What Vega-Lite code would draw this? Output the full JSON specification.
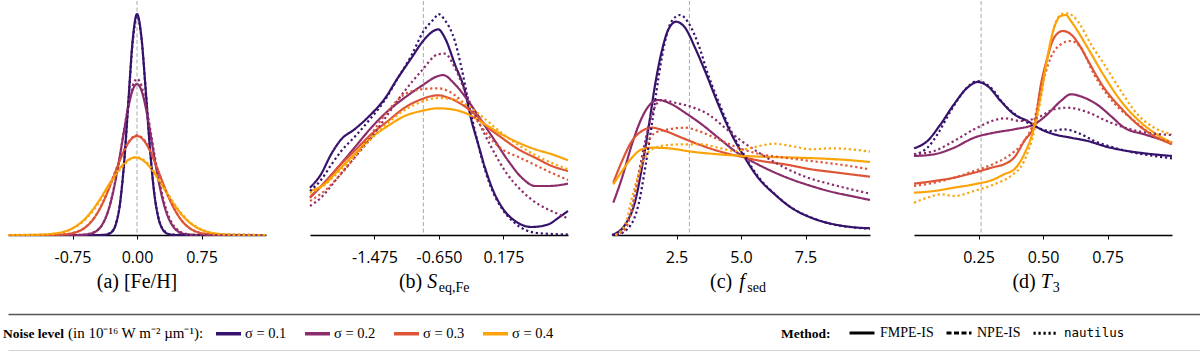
{
 "$schema": "https://vega.github.io/schema/vega-lite/v6.json",
 "padding": {"left": 3, "top": 0, "right": 0, "bottom": 0},
 "background": "white",
 "config": {
  "view": {"stroke": null},
  "axis": {"grid": false, "domainColor": "#000", "domainWidth": 1.5, "tickColor": "#000", "tickSize": 4, "tickWidth": 1, "labelFont": "Open Sans", "labelFontSize": 16, "labelColor": "#000", "labelPadding": 10},
  "legend": {"titleFont": "Liberation Serif", "labelFont": "Liberation Serif", "titleColor": "#000", "labelColor": "#000"}
 },
 "datasets": {
  "curves": [
   {"p":"a","s":"0.1","m":"FMPE-IS","x":-1.5,"y":0},{"p":"a","s":"0.1","m":"FMPE-IS","x":-0.45,"y":0},{"p":"a","s":"0.1","m":"FMPE-IS","x":-0.4,"y":0.001},{"p":"a","s":"0.1","m":"FMPE-IS","x":-0.35,"y":0.005},{"p":"a","s":"0.1","m":"FMPE-IS","x":-0.3,"y":0.025},{"p":"a","s":"0.1","m":"FMPE-IS","x":-0.25,"y":0.097},{"p":"a","s":"0.1","m":"FMPE-IS","x":-0.2,"y":0.299},{"p":"a","s":"0.1","m":"FMPE-IS","x":-0.15,"y":0.718},{"p":"a","s":"0.1","m":"FMPE-IS","x":-0.1,"y":1.34},{"p":"a","s":"0.1","m":"FMPE-IS","x":-0.05,"y":1.95},{"p":"a","s":"0.1","m":"FMPE-IS","x":0,"y":2.21},{"p":"a","s":"0.1","m":"FMPE-IS","x":0.05,"y":1.99},{"p":"a","s":"0.1","m":"FMPE-IS","x":0.1,"y":1.46},{"p":"a","s":"0.1","m":"FMPE-IS","x":0.15,"y":0.87},{"p":"a","s":"0.1","m":"FMPE-IS","x":0.2,"y":0.42},{"p":"a","s":"0.1","m":"FMPE-IS","x":0.25,"y":0.167},{"p":"a","s":"0.1","m":"FMPE-IS","x":0.3,"y":0.054},{"p":"a","s":"0.1","m":"FMPE-IS","x":0.35,"y":0.014},{"p":"a","s":"0.1","m":"FMPE-IS","x":0.4,"y":0.003},{"p":"a","s":"0.1","m":"FMPE-IS","x":0.45,"y":0},{"p":"a","s":"0.1","m":"FMPE-IS","x":1.5,"y":0},
   {"p":"a","s":"0.2","m":"FMPE-IS","x":-1.5,"y":0},{"p":"a","s":"0.2","m":"FMPE-IS","x":-0.7,"y":0},{"p":"a","s":"0.2","m":"FMPE-IS","x":-0.6,"y":0.004},{"p":"a","s":"0.2","m":"FMPE-IS","x":-0.5,"y":0.025},{"p":"a","s":"0.2","m":"FMPE-IS","x":-0.4,"y":0.111},{"p":"a","s":"0.2","m":"FMPE-IS","x":-0.35,"y":0.204},{"p":"a","s":"0.2","m":"FMPE-IS","x":-0.3,"y":0.348},{"p":"a","s":"0.2","m":"FMPE-IS","x":-0.25,"y":0.544},{"p":"a","s":"0.2","m":"FMPE-IS","x":-0.2,"y":0.786},{"p":"a","s":"0.2","m":"FMPE-IS","x":-0.15,"y":1.046},{"p":"a","s":"0.2","m":"FMPE-IS","x":-0.1,"y":1.282},{"p":"a","s":"0.2","m":"FMPE-IS","x":-0.05,"y":1.45},{"p":"a","s":"0.2","m":"FMPE-IS","x":0,"y":1.51},{"p":"a","s":"0.2","m":"FMPE-IS","x":0.05,"y":1.45},{"p":"a","s":"0.2","m":"FMPE-IS","x":0.1,"y":1.282},{"p":"a","s":"0.2","m":"FMPE-IS","x":0.15,"y":1.046},{"p":"a","s":"0.2","m":"FMPE-IS","x":0.2,"y":0.786},{"p":"a","s":"0.2","m":"FMPE-IS","x":0.25,"y":0.544},{"p":"a","s":"0.2","m":"FMPE-IS","x":0.3,"y":0.348},{"p":"a","s":"0.2","m":"FMPE-IS","x":0.35,"y":0.204},{"p":"a","s":"0.2","m":"FMPE-IS","x":0.4,"y":0.111},{"p":"a","s":"0.2","m":"FMPE-IS","x":0.5,"y":0.025},{"p":"a","s":"0.2","m":"FMPE-IS","x":0.6,"y":0.004},{"p":"a","s":"0.2","m":"FMPE-IS","x":0.7,"y":0},{"p":"a","s":"0.2","m":"FMPE-IS","x":1.5,"y":0},
   {"p":"a","s":"0.3","m":"FMPE-IS","x":-1.5,"y":0},{"p":"a","s":"0.3","m":"FMPE-IS","x":-1.0,"y":0},{"p":"a","s":"0.3","m":"FMPE-IS","x":-0.9,"y":0.003},{"p":"a","s":"0.3","m":"FMPE-IS","x":-0.8,"y":0.01},{"p":"a","s":"0.3","m":"FMPE-IS","x":-0.7,"y":0.03},{"p":"a","s":"0.3","m":"FMPE-IS","x":-0.6,"y":0.076},{"p":"a","s":"0.3","m":"FMPE-IS","x":-0.5,"y":0.167},{"p":"a","s":"0.3","m":"FMPE-IS","x":-0.4,"y":0.317},{"p":"a","s":"0.3","m":"FMPE-IS","x":-0.35,"y":0.414},{"p":"a","s":"0.3","m":"FMPE-IS","x":-0.3,"y":0.522},{"p":"a","s":"0.3","m":"FMPE-IS","x":-0.25,"y":0.634},{"p":"a","s":"0.3","m":"FMPE-IS","x":-0.2,"y":0.745},{"p":"a","s":"0.3","m":"FMPE-IS","x":-0.15,"y":0.843},{"p":"a","s":"0.3","m":"FMPE-IS","x":-0.1,"y":0.922},{"p":"a","s":"0.3","m":"FMPE-IS","x":-0.05,"y":0.972},{"p":"a","s":"0.3","m":"FMPE-IS","x":0,"y":0.99},{"p":"a","s":"0.3","m":"FMPE-IS","x":0.05,"y":0.972},{"p":"a","s":"0.3","m":"FMPE-IS","x":0.1,"y":0.922},{"p":"a","s":"0.3","m":"FMPE-IS","x":0.15,"y":0.843},{"p":"a","s":"0.3","m":"FMPE-IS","x":0.2,"y":0.745},{"p":"a","s":"0.3","m":"FMPE-IS","x":0.25,"y":0.634},{"p":"a","s":"0.3","m":"FMPE-IS","x":0.3,"y":0.522},{"p":"a","s":"0.3","m":"FMPE-IS","x":0.35,"y":0.414},{"p":"a","s":"0.3","m":"FMPE-IS","x":0.4,"y":0.317},{"p":"a","s":"0.3","m":"FMPE-IS","x":0.5,"y":0.167},{"p":"a","s":"0.3","m":"FMPE-IS","x":0.6,"y":0.076},{"p":"a","s":"0.3","m":"FMPE-IS","x":0.7,"y":0.03},{"p":"a","s":"0.3","m":"FMPE-IS","x":0.8,"y":0.01},{"p":"a","s":"0.3","m":"FMPE-IS","x":0.9,"y":0.003},{"p":"a","s":"0.3","m":"FMPE-IS","x":1.0,"y":0},{"p":"a","s":"0.3","m":"FMPE-IS","x":1.5,"y":0},
   {"p":"a","s":"0.4","m":"FMPE-IS","x":-1.5,"y":0},{"p":"a","s":"0.4","m":"FMPE-IS","x":-1.32,"y":0},{"p":"a","s":"0.4","m":"FMPE-IS","x":-1.22,"y":0.001},{"p":"a","s":"0.4","m":"FMPE-IS","x":-1.12,"y":0.003},{"p":"a","s":"0.4","m":"FMPE-IS","x":-1.02,"y":0.008},{"p":"a","s":"0.4","m":"FMPE-IS","x":-0.92,"y":0.019},{"p":"a","s":"0.4","m":"FMPE-IS","x":-0.82,"y":0.041},{"p":"a","s":"0.4","m":"FMPE-IS","x":-0.72,"y":0.082},{"p":"a","s":"0.4","m":"FMPE-IS","x":-0.62,"y":0.148},{"p":"a","s":"0.4","m":"FMPE-IS","x":-0.52,"y":0.246},{"p":"a","s":"0.4","m":"FMPE-IS","x":-0.42,"y":0.372},{"p":"a","s":"0.4","m":"FMPE-IS","x":-0.32,"y":0.513},{"p":"a","s":"0.4","m":"FMPE-IS","x":-0.22,"y":0.645},{"p":"a","s":"0.4","m":"FMPE-IS","x":-0.12,"y":0.74},{"p":"a","s":"0.4","m":"FMPE-IS","x":-0.02,"y":0.775},{"p":"a","s":"0.4","m":"FMPE-IS","x":0.08,"y":0.74},{"p":"a","s":"0.4","m":"FMPE-IS","x":0.18,"y":0.645},{"p":"a","s":"0.4","m":"FMPE-IS","x":0.28,"y":0.513},{"p":"a","s":"0.4","m":"FMPE-IS","x":0.38,"y":0.372},{"p":"a","s":"0.4","m":"FMPE-IS","x":0.48,"y":0.246},{"p":"a","s":"0.4","m":"FMPE-IS","x":0.58,"y":0.148},{"p":"a","s":"0.4","m":"FMPE-IS","x":0.68,"y":0.082},{"p":"a","s":"0.4","m":"FMPE-IS","x":0.78,"y":0.041},{"p":"a","s":"0.4","m":"FMPE-IS","x":0.88,"y":0.019},{"p":"a","s":"0.4","m":"FMPE-IS","x":0.98,"y":0.008},{"p":"a","s":"0.4","m":"FMPE-IS","x":1.08,"y":0.003},{"p":"a","s":"0.4","m":"FMPE-IS","x":1.18,"y":0.001},{"p":"a","s":"0.4","m":"FMPE-IS","x":1.28,"y":0},{"p":"a","s":"0.4","m":"FMPE-IS","x":1.5,"y":0},
   {"p":"a","s":"0.1","m":"nautilus","x":-1.5,"y":0},{"p":"a","s":"0.1","m":"nautilus","x":-0.4,"y":0},{"p":"a","s":"0.1","m":"nautilus","x":-0.3,"y":0.03},{"p":"a","s":"0.1","m":"nautilus","x":-0.25,"y":0.1},{"p":"a","s":"0.1","m":"nautilus","x":-0.2,"y":0.3},{"p":"a","s":"0.1","m":"nautilus","x":-0.15,"y":0.72},{"p":"a","s":"0.1","m":"nautilus","x":-0.1,"y":1.33},{"p":"a","s":"0.1","m":"nautilus","x":-0.05,"y":1.93},{"p":"a","s":"0.1","m":"nautilus","x":0,"y":2.19},{"p":"a","s":"0.1","m":"nautilus","x":0.05,"y":1.98},{"p":"a","s":"0.1","m":"nautilus","x":0.1,"y":1.47},{"p":"a","s":"0.1","m":"nautilus","x":0.15,"y":0.88},{"p":"a","s":"0.1","m":"nautilus","x":0.2,"y":0.43},{"p":"a","s":"0.1","m":"nautilus","x":0.25,"y":0.17},{"p":"a","s":"0.1","m":"nautilus","x":0.3,"y":0.06},{"p":"a","s":"0.1","m":"nautilus","x":0.4,"y":0.004},{"p":"a","s":"0.1","m":"nautilus","x":1.5,"y":0},
   {"p":"a","s":"0.2","m":"nautilus","x":-1.5,"y":0},{"p":"a","s":"0.2","m":"nautilus","x":-0.7,"y":0},{"p":"a","s":"0.2","m":"nautilus","x":-0.6,"y":0.006},{"p":"a","s":"0.2","m":"nautilus","x":-0.5,"y":0.03},{"p":"a","s":"0.2","m":"nautilus","x":-0.4,"y":0.105},{"p":"a","s":"0.2","m":"nautilus","x":-0.3,"y":0.35},{"p":"a","s":"0.2","m":"nautilus","x":-0.25,"y":0.55},{"p":"a","s":"0.2","m":"nautilus","x":-0.2,"y":0.78},{"p":"a","s":"0.2","m":"nautilus","x":-0.15,"y":1.05},{"p":"a","s":"0.2","m":"nautilus","x":-0.1,"y":1.3},{"p":"a","s":"0.2","m":"nautilus","x":-0.05,"y":1.49},{"p":"a","s":"0.2","m":"nautilus","x":0,"y":1.56},{"p":"a","s":"0.2","m":"nautilus","x":0.05,"y":1.5},{"p":"a","s":"0.2","m":"nautilus","x":0.1,"y":1.31},{"p":"a","s":"0.2","m":"nautilus","x":0.15,"y":1.08},{"p":"a","s":"0.2","m":"nautilus","x":0.2,"y":0.82},{"p":"a","s":"0.2","m":"nautilus","x":0.25,"y":0.58},{"p":"a","s":"0.2","m":"nautilus","x":0.3,"y":0.38},{"p":"a","s":"0.2","m":"nautilus","x":0.35,"y":0.23},{"p":"a","s":"0.2","m":"nautilus","x":0.4,"y":0.13},{"p":"a","s":"0.2","m":"nautilus","x":0.5,"y":0.035},{"p":"a","s":"0.2","m":"nautilus","x":0.6,"y":0.007},{"p":"a","s":"0.2","m":"nautilus","x":0.7,"y":0},{"p":"a","s":"0.2","m":"nautilus","x":1.5,"y":0},
   {"p":"a","s":"0.3","m":"nautilus","x":-1.5,"y":0},{"p":"a","s":"0.3","m":"nautilus","x":-1.0,"y":0},{"p":"a","s":"0.3","m":"nautilus","x":-0.8,"y":0.012},{"p":"a","s":"0.3","m":"nautilus","x":-0.6,"y":0.08},{"p":"a","s":"0.3","m":"nautilus","x":-0.5,"y":0.17},{"p":"a","s":"0.3","m":"nautilus","x":-0.4,"y":0.32},{"p":"a","s":"0.3","m":"nautilus","x":-0.3,"y":0.53},{"p":"a","s":"0.3","m":"nautilus","x":-0.2,"y":0.75},{"p":"a","s":"0.3","m":"nautilus","x":-0.1,"y":0.93},{"p":"a","s":"0.3","m":"nautilus","x":0,"y":1.0},{"p":"a","s":"0.3","m":"nautilus","x":0.1,"y":0.93},{"p":"a","s":"0.3","m":"nautilus","x":0.2,"y":0.75},{"p":"a","s":"0.3","m":"nautilus","x":0.3,"y":0.52},{"p":"a","s":"0.3","m":"nautilus","x":0.4,"y":0.32},{"p":"a","s":"0.3","m":"nautilus","x":0.5,"y":0.165},{"p":"a","s":"0.3","m":"nautilus","x":0.6,"y":0.075},{"p":"a","s":"0.3","m":"nautilus","x":0.8,"y":0.01},{"p":"a","s":"0.3","m":"nautilus","x":1.0,"y":0},{"p":"a","s":"0.3","m":"nautilus","x":1.5,"y":0},
   {"p":"a","s":"0.4","m":"nautilus","x":-1.5,"y":0},{"p":"a","s":"0.4","m":"nautilus","x":-1.2,"y":0.002},{"p":"a","s":"0.4","m":"nautilus","x":-1.0,"y":0.01},{"p":"a","s":"0.4","m":"nautilus","x":-0.8,"y":0.045},{"p":"a","s":"0.4","m":"nautilus","x":-0.7,"y":0.088},{"p":"a","s":"0.4","m":"nautilus","x":-0.6,"y":0.155},{"p":"a","s":"0.4","m":"nautilus","x":-0.5,"y":0.255},{"p":"a","s":"0.4","m":"nautilus","x":-0.4,"y":0.385},{"p":"a","s":"0.4","m":"nautilus","x":-0.3,"y":0.525},{"p":"a","s":"0.4","m":"nautilus","x":-0.2,"y":0.65},{"p":"a","s":"0.4","m":"nautilus","x":-0.1,"y":0.745},{"p":"a","s":"0.4","m":"nautilus","x":-0.02,"y":0.78},{"p":"a","s":"0.4","m":"nautilus","x":0.1,"y":0.735},{"p":"a","s":"0.4","m":"nautilus","x":0.2,"y":0.63},{"p":"a","s":"0.4","m":"nautilus","x":0.3,"y":0.495},{"p":"a","s":"0.4","m":"nautilus","x":0.4,"y":0.355},{"p":"a","s":"0.4","m":"nautilus","x":0.5,"y":0.235},{"p":"a","s":"0.4","m":"nautilus","x":0.6,"y":0.14},{"p":"a","s":"0.4","m":"nautilus","x":0.7,"y":0.077},{"p":"a","s":"0.4","m":"nautilus","x":0.8,"y":0.038},{"p":"a","s":"0.4","m":"nautilus","x":1.0,"y":0.007},{"p":"a","s":"0.4","m":"nautilus","x":1.2,"y":0.001},{"p":"a","s":"0.4","m":"nautilus","x":1.5,"y":0},

   {"p":"b","s":"0.1","m":"FMPE-IS","x":-2.3,"y":0.473},{"p":"b","s":"0.1","m":"FMPE-IS","x":-2.16,"y":0.607},{"p":"b","s":"0.1","m":"FMPE-IS","x":-2.03,"y":0.807},{"p":"b","s":"0.1","m":"FMPE-IS","x":-1.9,"y":0.957},{"p":"b","s":"0.1","m":"FMPE-IS","x":-1.73,"y":1.057},{"p":"b","s":"0.1","m":"FMPE-IS","x":-1.52,"y":1.207},{"p":"b","s":"0.1","m":"FMPE-IS","x":-1.35,"y":1.357},{"p":"b","s":"0.1","m":"FMPE-IS","x":-1.175,"y":1.573},{"p":"b","s":"0.1","m":"FMPE-IS","x":-1.0,"y":1.773},{"p":"b","s":"0.1","m":"FMPE-IS","x":-0.854,"y":1.94},{"p":"b","s":"0.1","m":"FMPE-IS","x":-0.704,"y":2.047},{"p":"b","s":"0.1","m":"FMPE-IS","x":-0.66,"y":2.057},{"p":"b","s":"0.1","m":"FMPE-IS","x":-0.576,"y":1.973},{"p":"b","s":"0.1","m":"FMPE-IS","x":-0.447,"y":1.707},{"p":"b","s":"0.1","m":"FMPE-IS","x":-0.319,"y":1.44},{"p":"b","s":"0.1","m":"FMPE-IS","x":-0.233,"y":1.14},{"p":"b","s":"0.1","m":"FMPE-IS","x":-0.148,"y":0.907},{"p":"b","s":"0.1","m":"FMPE-IS","x":-0.062,"y":0.673},{"p":"b","s":"0.1","m":"FMPE-IS","x":0.045,"y":0.44},{"p":"b","s":"0.1","m":"FMPE-IS","x":0.173,"y":0.257},{"p":"b","s":"0.1","m":"FMPE-IS","x":0.323,"y":0.14},{"p":"b","s":"0.1","m":"FMPE-IS","x":0.538,"y":0.08},{"p":"b","s":"0.1","m":"FMPE-IS","x":0.751,"y":0.107},{"p":"b","s":"0.1","m":"FMPE-IS","x":0.879,"y":0.173},{"p":"b","s":"0.1","m":"FMPE-IS","x":1.0,"y":0.24},
   {"p":"b","s":"0.2","m":"FMPE-IS","x":-2.3,"y":0.373},{"p":"b","s":"0.2","m":"FMPE-IS","x":-2.116,"y":0.523},{"p":"b","s":"0.2","m":"FMPE-IS","x":-1.946,"y":0.673},{"p":"b","s":"0.2","m":"FMPE-IS","x":-1.731,"y":0.873},{"p":"b","s":"0.2","m":"FMPE-IS","x":-1.517,"y":1.073},{"p":"b","s":"0.2","m":"FMPE-IS","x":-1.304,"y":1.24},{"p":"b","s":"0.2","m":"FMPE-IS","x":-1.089,"y":1.373},{"p":"b","s":"0.2","m":"FMPE-IS","x":-0.875,"y":1.49},{"p":"b","s":"0.2","m":"FMPE-IS","x":-0.661,"y":1.59},{"p":"b","s":"0.2","m":"FMPE-IS","x":-0.6,"y":1.6},{"p":"b","s":"0.2","m":"FMPE-IS","x":-0.447,"y":1.507},{"p":"b","s":"0.2","m":"FMPE-IS","x":-0.276,"y":1.34},{"p":"b","s":"0.2","m":"FMPE-IS","x":-0.104,"y":1.14},{"p":"b","s":"0.2","m":"FMPE-IS","x":0.067,"y":0.94},{"p":"b","s":"0.2","m":"FMPE-IS","x":0.237,"y":0.74},{"p":"b","s":"0.2","m":"FMPE-IS","x":0.409,"y":0.573},{"p":"b","s":"0.2","m":"FMPE-IS","x":0.58,"y":0.49},{"p":"b","s":"0.2","m":"FMPE-IS","x":0.751,"y":0.49},{"p":"b","s":"0.2","m":"FMPE-IS","x":1.0,"y":0.513},
   {"p":"b","s":"0.3","m":"FMPE-IS","x":-2.3,"y":0.38},{"p":"b","s":"0.3","m":"FMPE-IS","x":-2.116,"y":0.523},{"p":"b","s":"0.3","m":"FMPE-IS","x":-1.946,"y":0.673},{"p":"b","s":"0.3","m":"FMPE-IS","x":-1.731,"y":0.84},{"p":"b","s":"0.3","m":"FMPE-IS","x":-1.517,"y":1.007},{"p":"b","s":"0.3","m":"FMPE-IS","x":-1.304,"y":1.14},{"p":"b","s":"0.3","m":"FMPE-IS","x":-1.089,"y":1.273},{"p":"b","s":"0.3","m":"FMPE-IS","x":-0.875,"y":1.357},{"p":"b","s":"0.3","m":"FMPE-IS","x":-0.661,"y":1.397},{"p":"b","s":"0.3","m":"FMPE-IS","x":-0.532,"y":1.373},{"p":"b","s":"0.3","m":"FMPE-IS","x":-0.361,"y":1.307},{"p":"b","s":"0.3","m":"FMPE-IS","x":-0.19,"y":1.207},{"p":"b","s":"0.3","m":"FMPE-IS","x":-0.019,"y":1.073},{"p":"b","s":"0.3","m":"FMPE-IS","x":0.152,"y":0.973},{"p":"b","s":"0.3","m":"FMPE-IS","x":0.366,"y":0.857},{"p":"b","s":"0.3","m":"FMPE-IS","x":0.58,"y":0.773},{"p":"b","s":"0.3","m":"FMPE-IS","x":0.794,"y":0.69},{"p":"b","s":"0.3","m":"FMPE-IS","x":1.0,"y":0.64},
   {"p":"b","s":"0.4","m":"FMPE-IS","x":-2.3,"y":0.44},{"p":"b","s":"0.4","m":"FMPE-IS","x":-2.116,"y":0.507},{"p":"b","s":"0.4","m":"FMPE-IS","x":-1.946,"y":0.64},{"p":"b","s":"0.4","m":"FMPE-IS","x":-1.731,"y":0.807},{"p":"b","s":"0.4","m":"FMPE-IS","x":-1.517,"y":0.973},{"p":"b","s":"0.4","m":"FMPE-IS","x":-1.304,"y":1.09},{"p":"b","s":"0.4","m":"FMPE-IS","x":-1.089,"y":1.19},{"p":"b","s":"0.4","m":"FMPE-IS","x":-0.875,"y":1.24},{"p":"b","s":"0.4","m":"FMPE-IS","x":-0.661,"y":1.267},{"p":"b","s":"0.4","m":"FMPE-IS","x":-0.489,"y":1.257},{"p":"b","s":"0.4","m":"FMPE-IS","x":-0.276,"y":1.207},{"p":"b","s":"0.4","m":"FMPE-IS","x":-0.062,"y":1.107},{"p":"b","s":"0.4","m":"FMPE-IS","x":0.152,"y":1.007},{"p":"b","s":"0.4","m":"FMPE-IS","x":0.366,"y":0.923},{"p":"b","s":"0.4","m":"FMPE-IS","x":0.58,"y":0.857},{"p":"b","s":"0.4","m":"FMPE-IS","x":0.794,"y":0.807},{"p":"b","s":"0.4","m":"FMPE-IS","x":1.0,"y":0.747},
   {"p":"b","s":"0.1","m":"nautilus","x":-2.3,"y":0.44},{"p":"b","s":"0.1","m":"nautilus","x":-2.16,"y":0.55},{"p":"b","s":"0.1","m":"nautilus","x":-2.03,"y":0.7},{"p":"b","s":"0.1","m":"nautilus","x":-1.9,"y":0.84},{"p":"b","s":"0.1","m":"nautilus","x":-1.73,"y":0.98},{"p":"b","s":"0.1","m":"nautilus","x":-1.52,"y":1.17},{"p":"b","s":"0.1","m":"nautilus","x":-1.35,"y":1.34},{"p":"b","s":"0.1","m":"nautilus","x":-1.175,"y":1.57},{"p":"b","s":"0.1","m":"nautilus","x":-1.0,"y":1.8},{"p":"b","s":"0.1","m":"nautilus","x":-0.854,"y":2.03},{"p":"b","s":"0.1","m":"nautilus","x":-0.704,"y":2.17},{"p":"b","s":"0.1","m":"nautilus","x":-0.66,"y":2.21},{"p":"b","s":"0.1","m":"nautilus","x":-0.576,"y":2.15},{"p":"b","s":"0.1","m":"nautilus","x":-0.447,"y":1.94},{"p":"b","s":"0.1","m":"nautilus","x":-0.362,"y":1.67},{"p":"b","s":"0.1","m":"nautilus","x":-0.276,"y":1.34},{"p":"b","s":"0.1","m":"nautilus","x":-0.19,"y":1.04},{"p":"b","s":"0.1","m":"nautilus","x":-0.105,"y":0.77},{"p":"b","s":"0.1","m":"nautilus","x":0.0,"y":0.507},{"p":"b","s":"0.1","m":"nautilus","x":0.15,"y":0.27},{"p":"b","s":"0.1","m":"nautilus","x":0.32,"y":0.12},{"p":"b","s":"0.1","m":"nautilus","x":0.6,"y":0.02},{"p":"b","s":"0.1","m":"nautilus","x":1.0,"y":0.005},
   {"p":"b","s":"0.2","m":"nautilus","x":-2.3,"y":0.29},{"p":"b","s":"0.2","m":"nautilus","x":-2.159,"y":0.373},{"p":"b","s":"0.2","m":"nautilus","x":-1.946,"y":0.573},{"p":"b","s":"0.2","m":"nautilus","x":-1.731,"y":0.773},{"p":"b","s":"0.2","m":"nautilus","x":-1.517,"y":0.973},{"p":"b","s":"0.2","m":"nautilus","x":-1.304,"y":1.207},{"p":"b","s":"0.2","m":"nautilus","x":-1.089,"y":1.44},{"p":"b","s":"0.2","m":"nautilus","x":-0.875,"y":1.64},{"p":"b","s":"0.2","m":"nautilus","x":-0.661,"y":1.807},{"p":"b","s":"0.2","m":"nautilus","x":-0.576,"y":1.813},{"p":"b","s":"0.2","m":"nautilus","x":-0.447,"y":1.673},{"p":"b","s":"0.2","m":"nautilus","x":-0.319,"y":1.44},{"p":"b","s":"0.2","m":"nautilus","x":-0.148,"y":1.14},{"p":"b","s":"0.2","m":"nautilus","x":0.023,"y":0.873},{"p":"b","s":"0.2","m":"nautilus","x":0.195,"y":0.64},{"p":"b","s":"0.2","m":"nautilus","x":0.409,"y":0.44},{"p":"b","s":"0.2","m":"nautilus","x":0.623,"y":0.307},{"p":"b","s":"0.2","m":"nautilus","x":0.837,"y":0.223},{"p":"b","s":"0.2","m":"nautilus","x":1.0,"y":0.165},
   {"p":"b","s":"0.3","m":"nautilus","x":-2.3,"y":0.34},{"p":"b","s":"0.3","m":"nautilus","x":-2.116,"y":0.44},{"p":"b","s":"0.3","m":"nautilus","x":-1.946,"y":0.573},{"p":"b","s":"0.3","m":"nautilus","x":-1.731,"y":0.773},{"p":"b","s":"0.3","m":"nautilus","x":-1.517,"y":1.007},{"p":"b","s":"0.3","m":"nautilus","x":-1.304,"y":1.24},{"p":"b","s":"0.3","m":"nautilus","x":-1.089,"y":1.407},{"p":"b","s":"0.3","m":"nautilus","x":-0.875,"y":1.457},{"p":"b","s":"0.3","m":"nautilus","x":-0.661,"y":1.467},{"p":"b","s":"0.3","m":"nautilus","x":-0.532,"y":1.44},{"p":"b","s":"0.3","m":"nautilus","x":-0.361,"y":1.34},{"p":"b","s":"0.3","m":"nautilus","x":-0.19,"y":1.173},{"p":"b","s":"0.3","m":"nautilus","x":-0.019,"y":0.99},{"p":"b","s":"0.3","m":"nautilus","x":0.152,"y":0.86},{"p":"b","s":"0.3","m":"nautilus","x":0.366,"y":0.78},{"p":"b","s":"0.3","m":"nautilus","x":0.58,"y":0.7},{"p":"b","s":"0.3","m":"nautilus","x":0.794,"y":0.62},{"p":"b","s":"0.3","m":"nautilus","x":1.0,"y":0.55},
   {"p":"b","s":"0.4","m":"nautilus","x":-2.3,"y":0.42},{"p":"b","s":"0.4","m":"nautilus","x":-2.116,"y":0.5},{"p":"b","s":"0.4","m":"nautilus","x":-1.946,"y":0.62},{"p":"b","s":"0.4","m":"nautilus","x":-1.731,"y":0.79},{"p":"b","s":"0.4","m":"nautilus","x":-1.517,"y":0.96},{"p":"b","s":"0.4","m":"nautilus","x":-1.304,"y":1.12},{"p":"b","s":"0.4","m":"nautilus","x":-1.089,"y":1.25},{"p":"b","s":"0.4","m":"nautilus","x":-0.875,"y":1.33},{"p":"b","s":"0.4","m":"nautilus","x":-0.661,"y":1.37},{"p":"b","s":"0.4","m":"nautilus","x":-0.489,"y":1.36},{"p":"b","s":"0.4","m":"nautilus","x":-0.276,"y":1.29},{"p":"b","s":"0.4","m":"nautilus","x":-0.062,"y":1.16},{"p":"b","s":"0.4","m":"nautilus","x":0.152,"y":1.02},{"p":"b","s":"0.4","m":"nautilus","x":0.366,"y":0.9},{"p":"b","s":"0.4","m":"nautilus","x":0.58,"y":0.8},{"p":"b","s":"0.4","m":"nautilus","x":0.794,"y":0.72},{"p":"b","s":"0.4","m":"nautilus","x":1.0,"y":0.657},

   {"p":"c","s":"0.1","m":"FMPE-IS","x":0,"y":0},{"p":"c","s":"0.1","m":"FMPE-IS","x":0.064,"y":0.007},{"p":"c","s":"0.1","m":"FMPE-IS","x":0.515,"y":0.107},{"p":"c","s":"0.1","m":"FMPE-IS","x":0.901,"y":0.34},{"p":"c","s":"0.1","m":"FMPE-IS","x":1.158,"y":0.673},{"p":"c","s":"0.1","m":"FMPE-IS","x":1.416,"y":1.073},{"p":"c","s":"0.1","m":"FMPE-IS","x":1.673,"y":1.507},{"p":"c","s":"0.1","m":"FMPE-IS","x":1.931,"y":1.84},{"p":"c","s":"0.1","m":"FMPE-IS","x":2.188,"y":2.057},{"p":"c","s":"0.1","m":"FMPE-IS","x":2.484,"y":2.133},{"p":"c","s":"0.1","m":"FMPE-IS","x":2.831,"y":2.073},{"p":"c","s":"0.1","m":"FMPE-IS","x":3.218,"y":1.873},{"p":"c","s":"0.1","m":"FMPE-IS","x":3.604,"y":1.64},{"p":"c","s":"0.1","m":"FMPE-IS","x":4.118,"y":1.307},{"p":"c","s":"0.1","m":"FMPE-IS","x":4.633,"y":1.007},{"p":"c","s":"0.1","m":"FMPE-IS","x":5.148,"y":0.773},{"p":"c","s":"0.1","m":"FMPE-IS","x":5.663,"y":0.573},{"p":"c","s":"0.1","m":"FMPE-IS","x":6.306,"y":0.407},{"p":"c","s":"0.1","m":"FMPE-IS","x":6.95,"y":0.273},{"p":"c","s":"0.1","m":"FMPE-IS","x":7.722,"y":0.173},{"p":"c","s":"0.1","m":"FMPE-IS","x":8.494,"y":0.113},{"p":"c","s":"0.1","m":"FMPE-IS","x":9.266,"y":0.08},{"p":"c","s":"0.1","m":"FMPE-IS","x":10,"y":0.067},
   {"p":"c","s":"0.2","m":"FMPE-IS","x":0.05,"y":0.323},{"p":"c","s":"0.2","m":"FMPE-IS","x":0.39,"y":0.573},{"p":"c","s":"0.2","m":"FMPE-IS","x":0.772,"y":0.907},{"p":"c","s":"0.2","m":"FMPE-IS","x":1.158,"y":1.173},{"p":"c","s":"0.2","m":"FMPE-IS","x":1.544,"y":1.323},{"p":"c","s":"0.2","m":"FMPE-IS","x":1.802,"y":1.35},{"p":"c","s":"0.2","m":"FMPE-IS","x":2.317,"y":1.307},{"p":"c","s":"0.2","m":"FMPE-IS","x":2.831,"y":1.223},{"p":"c","s":"0.2","m":"FMPE-IS","x":3.475,"y":1.107},{"p":"c","s":"0.2","m":"FMPE-IS","x":4.118,"y":0.973},{"p":"c","s":"0.2","m":"FMPE-IS","x":4.762,"y":0.84},{"p":"c","s":"0.2","m":"FMPE-IS","x":5.405,"y":0.74},{"p":"c","s":"0.2","m":"FMPE-IS","x":6.178,"y":0.64},{"p":"c","s":"0.2","m":"FMPE-IS","x":6.95,"y":0.557},{"p":"c","s":"0.2","m":"FMPE-IS","x":7.722,"y":0.49},{"p":"c","s":"0.2","m":"FMPE-IS","x":8.494,"y":0.433},{"p":"c","s":"0.2","m":"FMPE-IS","x":9.266,"y":0.39},{"p":"c","s":"0.2","m":"FMPE-IS","x":10,"y":0.35},
   {"p":"c","s":"0.3","m":"FMPE-IS","x":0.05,"y":0.523},{"p":"c","s":"0.3","m":"FMPE-IS","x":0.39,"y":0.74},{"p":"c","s":"0.3","m":"FMPE-IS","x":0.772,"y":0.94},{"p":"c","s":"0.3","m":"FMPE-IS","x":1.158,"y":1.04},{"p":"c","s":"0.3","m":"FMPE-IS","x":1.544,"y":1.073},{"p":"c","s":"0.3","m":"FMPE-IS","x":2.059,"y":1.04},{"p":"c","s":"0.3","m":"FMPE-IS","x":2.703,"y":0.973},{"p":"c","s":"0.3","m":"FMPE-IS","x":3.346,"y":0.907},{"p":"c","s":"0.3","m":"FMPE-IS","x":4.118,"y":0.84},{"p":"c","s":"0.3","m":"FMPE-IS","x":4.891,"y":0.79},{"p":"c","s":"0.3","m":"FMPE-IS","x":5.792,"y":0.74},{"p":"c","s":"0.3","m":"FMPE-IS","x":6.693,"y":0.707},{"p":"c","s":"0.3","m":"FMPE-IS","x":7.722,"y":0.657},{"p":"c","s":"0.3","m":"FMPE-IS","x":8.752,"y":0.623},{"p":"c","s":"0.3","m":"FMPE-IS","x":10,"y":0.583},
   {"p":"c","s":"0.4","m":"FMPE-IS","x":0.05,"y":0.507},{"p":"c","s":"0.4","m":"FMPE-IS","x":0.39,"y":0.64},{"p":"c","s":"0.4","m":"FMPE-IS","x":0.772,"y":0.773},{"p":"c","s":"0.4","m":"FMPE-IS","x":1.158,"y":0.857},{"p":"c","s":"0.4","m":"FMPE-IS","x":1.544,"y":0.873},{"p":"c","s":"0.4","m":"FMPE-IS","x":2.188,"y":0.867},{"p":"c","s":"0.4","m":"FMPE-IS","x":3.089,"y":0.833},{"p":"c","s":"0.4","m":"FMPE-IS","x":4.118,"y":0.807},{"p":"c","s":"0.4","m":"FMPE-IS","x":5.148,"y":0.79},{"p":"c","s":"0.4","m":"FMPE-IS","x":6.178,"y":0.78},{"p":"c","s":"0.4","m":"FMPE-IS","x":7.207,"y":0.773},{"p":"c","s":"0.4","m":"FMPE-IS","x":8.237,"y":0.763},{"p":"c","s":"0.4","m":"FMPE-IS","x":9.266,"y":0.747},{"p":"c","s":"0.4","m":"FMPE-IS","x":10,"y":0.73},
   {"p":"c","s":"0.1","m":"nautilus","x":0,"y":0},{"p":"c","s":"0.1","m":"nautilus","x":0.129,"y":0},{"p":"c","s":"0.1","m":"nautilus","x":0.644,"y":0.073},{"p":"c","s":"0.1","m":"nautilus","x":1.03,"y":0.307},{"p":"c","s":"0.1","m":"nautilus","x":1.287,"y":0.673},{"p":"c","s":"0.1","m":"nautilus","x":1.544,"y":1.107},{"p":"c","s":"0.1","m":"nautilus","x":1.802,"y":1.573},{"p":"c","s":"0.1","m":"nautilus","x":2.059,"y":1.94},{"p":"c","s":"0.1","m":"nautilus","x":2.317,"y":2.14},{"p":"c","s":"0.1","m":"nautilus","x":2.638,"y":2.2},{"p":"c","s":"0.1","m":"nautilus","x":2.96,"y":2.123},{"p":"c","s":"0.1","m":"nautilus","x":3.346,"y":1.907},{"p":"c","s":"0.1","m":"nautilus","x":3.73,"y":1.6},{"p":"c","s":"0.1","m":"nautilus","x":4.118,"y":1.34},{"p":"c","s":"0.1","m":"nautilus","x":4.633,"y":1.03},{"p":"c","s":"0.1","m":"nautilus","x":5.148,"y":0.79},{"p":"c","s":"0.1","m":"nautilus","x":5.663,"y":0.585},{"p":"c","s":"0.1","m":"nautilus","x":6.306,"y":0.41},{"p":"c","s":"0.1","m":"nautilus","x":6.95,"y":0.275},{"p":"c","s":"0.1","m":"nautilus","x":7.722,"y":0.175},{"p":"c","s":"0.1","m":"nautilus","x":8.494,"y":0.11},{"p":"c","s":"0.1","m":"nautilus","x":9.266,"y":0.078},{"p":"c","s":"0.1","m":"nautilus","x":10,"y":0.063},
   {"p":"c","s":"0.2","m":"nautilus","x":0.13,"y":0},{"p":"c","s":"0.2","m":"nautilus","x":0.515,"y":0.073},{"p":"c","s":"0.2","m":"nautilus","x":0.772,"y":0.27},{"p":"c","s":"0.2","m":"nautilus","x":1.03,"y":0.607},{"p":"c","s":"0.2","m":"nautilus","x":1.287,"y":0.94},{"p":"c","s":"0.2","m":"nautilus","x":1.544,"y":1.207},{"p":"c","s":"0.2","m":"nautilus","x":1.931,"y":1.35},{"p":"c","s":"0.2","m":"nautilus","x":2.445,"y":1.323},{"p":"c","s":"0.2","m":"nautilus","x":3.089,"y":1.28},{"p":"c","s":"0.2","m":"nautilus","x":3.732,"y":1.207},{"p":"c","s":"0.2","m":"nautilus","x":4.376,"y":1.073},{"p":"c","s":"0.2","m":"nautilus","x":5.019,"y":0.94},{"p":"c","s":"0.2","m":"nautilus","x":5.792,"y":0.807},{"p":"c","s":"0.2","m":"nautilus","x":6.693,"y":0.673},{"p":"c","s":"0.2","m":"nautilus","x":7.593,"y":0.573},{"p":"c","s":"0.2","m":"nautilus","x":8.494,"y":0.507},{"p":"c","s":"0.2","m":"nautilus","x":9.266,"y":0.457},{"p":"c","s":"0.2","m":"nautilus","x":10,"y":0.413},
   {"p":"c","s":"0.3","m":"nautilus","x":0.13,"y":0},{"p":"c","s":"0.3","m":"nautilus","x":0.515,"y":0.06},{"p":"c","s":"0.3","m":"nautilus","x":0.772,"y":0.25},{"p":"c","s":"0.3","m":"nautilus","x":1.03,"y":0.58},{"p":"c","s":"0.3","m":"nautilus","x":1.287,"y":0.85},{"p":"c","s":"0.3","m":"nautilus","x":1.673,"y":1.023},{"p":"c","s":"0.3","m":"nautilus","x":2.188,"y":1.057},{"p":"c","s":"0.3","m":"nautilus","x":2.831,"y":1.073},{"p":"c","s":"0.3","m":"nautilus","x":3.346,"y":1.04},{"p":"c","s":"0.3","m":"nautilus","x":4.118,"y":0.957},{"p":"c","s":"0.3","m":"nautilus","x":4.891,"y":0.873},{"p":"c","s":"0.3","m":"nautilus","x":5.663,"y":0.813},{"p":"c","s":"0.3","m":"nautilus","x":6.693,"y":0.773},{"p":"c","s":"0.3","m":"nautilus","x":7.722,"y":0.74},{"p":"c","s":"0.3","m":"nautilus","x":8.752,"y":0.707},{"p":"c","s":"0.3","m":"nautilus","x":10,"y":0.657},
   {"p":"c","s":"0.4","m":"nautilus","x":0.13,"y":0},{"p":"c","s":"0.4","m":"nautilus","x":0.515,"y":0.107},{"p":"c","s":"0.4","m":"nautilus","x":0.772,"y":0.373},{"p":"c","s":"0.4","m":"nautilus","x":1.158,"y":0.707},{"p":"c","s":"0.4","m":"nautilus","x":1.544,"y":0.857},{"p":"c","s":"0.4","m":"nautilus","x":2.188,"y":0.9},{"p":"c","s":"0.4","m":"nautilus","x":2.831,"y":0.907},{"p":"c","s":"0.4","m":"nautilus","x":3.475,"y":0.907},{"p":"c","s":"0.4","m":"nautilus","x":4.118,"y":0.873},{"p":"c","s":"0.4","m":"nautilus","x":4.762,"y":0.84},{"p":"c","s":"0.4","m":"nautilus","x":5.405,"y":0.873},{"p":"c","s":"0.4","m":"nautilus","x":6.306,"y":0.913},{"p":"c","s":"0.4","m":"nautilus","x":6.95,"y":0.89},{"p":"c","s":"0.4","m":"nautilus","x":7.722,"y":0.857},{"p":"c","s":"0.4","m":"nautilus","x":8.494,"y":0.867},{"p":"c","s":"0.4","m":"nautilus","x":9.266,"y":0.857},{"p":"c","s":"0.4","m":"nautilus","x":10,"y":0.833},

   {"p":"d","s":"0.1","m":"FMPE-IS","x":0,"y":0.867},{"p":"d","s":"0.1","m":"FMPE-IS","x":0.052,"y":0.94},{"p":"d","s":"0.1","m":"FMPE-IS","x":0.103,"y":1.107},{"p":"d","s":"0.1","m":"FMPE-IS","x":0.155,"y":1.307},{"p":"d","s":"0.1","m":"FMPE-IS","x":0.207,"y":1.473},{"p":"d","s":"0.1","m":"FMPE-IS","x":0.246,"y":1.53},{"p":"d","s":"0.1","m":"FMPE-IS","x":0.285,"y":1.49},{"p":"d","s":"0.1","m":"FMPE-IS","x":0.336,"y":1.34},{"p":"d","s":"0.1","m":"FMPE-IS","x":0.388,"y":1.207},{"p":"d","s":"0.1","m":"FMPE-IS","x":0.44,"y":1.14},{"p":"d","s":"0.1","m":"FMPE-IS","x":0.492,"y":1.057},{"p":"d","s":"0.1","m":"FMPE-IS","x":0.543,"y":1.007},{"p":"d","s":"0.1","m":"FMPE-IS","x":0.608,"y":0.973},{"p":"d","s":"0.1","m":"FMPE-IS","x":0.673,"y":0.94},{"p":"d","s":"0.1","m":"FMPE-IS","x":0.75,"y":0.88},{"p":"d","s":"0.1","m":"FMPE-IS","x":0.828,"y":0.84},{"p":"d","s":"0.1","m":"FMPE-IS","x":0.906,"y":0.813},{"p":"d","s":"0.1","m":"FMPE-IS","x":1,"y":0.79},
   {"p":"d","s":"0.2","m":"FMPE-IS","x":0,"y":0.79},{"p":"d","s":"0.2","m":"FMPE-IS","x":0.078,"y":0.807},{"p":"d","s":"0.2","m":"FMPE-IS","x":0.155,"y":0.873},{"p":"d","s":"0.2","m":"FMPE-IS","x":0.233,"y":0.973},{"p":"d","s":"0.2","m":"FMPE-IS","x":0.31,"y":1.023},{"p":"d","s":"0.2","m":"FMPE-IS","x":0.388,"y":1.057},{"p":"d","s":"0.2","m":"FMPE-IS","x":0.466,"y":1.107},{"p":"d","s":"0.2","m":"FMPE-IS","x":0.517,"y":1.207},{"p":"d","s":"0.2","m":"FMPE-IS","x":0.569,"y":1.34},{"p":"d","s":"0.2","m":"FMPE-IS","x":0.608,"y":1.407},{"p":"d","s":"0.2","m":"FMPE-IS","x":0.66,"y":1.373},{"p":"d","s":"0.2","m":"FMPE-IS","x":0.712,"y":1.3},{"p":"d","s":"0.2","m":"FMPE-IS","x":0.763,"y":1.19},{"p":"d","s":"0.2","m":"FMPE-IS","x":0.815,"y":1.073},{"p":"d","s":"0.2","m":"FMPE-IS","x":0.892,"y":1.007},{"p":"d","s":"0.2","m":"FMPE-IS","x":1,"y":0.923},
   {"p":"d","s":"0.3","m":"FMPE-IS","x":0,"y":0.513},{"p":"d","s":"0.3","m":"FMPE-IS","x":0.078,"y":0.54},{"p":"d","s":"0.3","m":"FMPE-IS","x":0.155,"y":0.573},{"p":"d","s":"0.3","m":"FMPE-IS","x":0.233,"y":0.623},{"p":"d","s":"0.3","m":"FMPE-IS","x":0.31,"y":0.68},{"p":"d","s":"0.3","m":"FMPE-IS","x":0.349,"y":0.707},{"p":"d","s":"0.3","m":"FMPE-IS","x":0.39,"y":0.78},{"p":"d","s":"0.3","m":"FMPE-IS","x":0.427,"y":0.94},{"p":"d","s":"0.3","m":"FMPE-IS","x":0.466,"y":1.1},{"p":"d","s":"0.3","m":"FMPE-IS","x":0.492,"y":1.507},{"p":"d","s":"0.3","m":"FMPE-IS","x":0.517,"y":1.773},{"p":"d","s":"0.3","m":"FMPE-IS","x":0.543,"y":1.973},{"p":"d","s":"0.3","m":"FMPE-IS","x":0.576,"y":2.04},{"p":"d","s":"0.3","m":"FMPE-IS","x":0.608,"y":2.007},{"p":"d","s":"0.3","m":"FMPE-IS","x":0.647,"y":1.873},{"p":"d","s":"0.3","m":"FMPE-IS","x":0.673,"y":1.75},{"p":"d","s":"0.3","m":"FMPE-IS","x":0.737,"y":1.47},{"p":"d","s":"0.3","m":"FMPE-IS","x":0.802,"y":1.27},{"p":"d","s":"0.3","m":"FMPE-IS","x":0.866,"y":1.107},{"p":"d","s":"0.3","m":"FMPE-IS","x":0.931,"y":0.99},{"p":"d","s":"0.3","m":"FMPE-IS","x":1,"y":0.907},
   {"p":"d","s":"0.4","m":"FMPE-IS","x":0,"y":0.423},{"p":"d","s":"0.4","m":"FMPE-IS","x":0.078,"y":0.44},{"p":"d","s":"0.4","m":"FMPE-IS","x":0.155,"y":0.473},{"p":"d","s":"0.4","m":"FMPE-IS","x":0.233,"y":0.507},{"p":"d","s":"0.4","m":"FMPE-IS","x":0.31,"y":0.557},{"p":"d","s":"0.4","m":"FMPE-IS","x":0.349,"y":0.607},{"p":"d","s":"0.4","m":"FMPE-IS","x":0.39,"y":0.66},{"p":"d","s":"0.4","m":"FMPE-IS","x":0.427,"y":0.807},{"p":"d","s":"0.4","m":"FMPE-IS","x":0.466,"y":1.08},{"p":"d","s":"0.4","m":"FMPE-IS","x":0.492,"y":1.407},{"p":"d","s":"0.4","m":"FMPE-IS","x":0.517,"y":1.773},{"p":"d","s":"0.4","m":"FMPE-IS","x":0.543,"y":2.073},{"p":"d","s":"0.4","m":"FMPE-IS","x":0.569,"y":2.19},{"p":"d","s":"0.4","m":"FMPE-IS","x":0.589,"y":2.2},{"p":"d","s":"0.4","m":"FMPE-IS","x":0.608,"y":2.14},{"p":"d","s":"0.4","m":"FMPE-IS","x":0.673,"y":1.873},{"p":"d","s":"0.4","m":"FMPE-IS","x":0.737,"y":1.59},{"p":"d","s":"0.4","m":"FMPE-IS","x":0.802,"y":1.34},{"p":"d","s":"0.4","m":"FMPE-IS","x":0.866,"y":1.157},{"p":"d","s":"0.4","m":"FMPE-IS","x":0.931,"y":1.023},{"p":"d","s":"0.4","m":"FMPE-IS","x":1,"y":0.923},
   {"p":"d","s":"0.1","m":"nautilus","x":0,"y":0.807},{"p":"d","s":"0.1","m":"nautilus","x":0.052,"y":0.873},{"p":"d","s":"0.1","m":"nautilus","x":0.091,"y":1.007},{"p":"d","s":"0.1","m":"nautilus","x":0.142,"y":1.24},{"p":"d","s":"0.1","m":"nautilus","x":0.194,"y":1.44},{"p":"d","s":"0.1","m":"nautilus","x":0.246,"y":1.54},{"p":"d","s":"0.1","m":"nautilus","x":0.298,"y":1.473},{"p":"d","s":"0.1","m":"nautilus","x":0.349,"y":1.307},{"p":"d","s":"0.1","m":"nautilus","x":0.401,"y":1.19},{"p":"d","s":"0.1","m":"nautilus","x":0.466,"y":1.09},{"p":"d","s":"0.1","m":"nautilus","x":0.53,"y":1.04},{"p":"d","s":"0.1","m":"nautilus","x":0.582,"y":1.057},{"p":"d","s":"0.1","m":"nautilus","x":0.634,"y":1.023},{"p":"d","s":"0.1","m":"nautilus","x":0.699,"y":0.94},{"p":"d","s":"0.1","m":"nautilus","x":0.776,"y":0.873},{"p":"d","s":"0.1","m":"nautilus","x":0.854,"y":0.823},{"p":"d","s":"0.1","m":"nautilus","x":0.931,"y":0.79},{"p":"d","s":"0.1","m":"nautilus","x":1,"y":0.767},
   {"p":"d","s":"0.2","m":"nautilus","x":0,"y":0.807},{"p":"d","s":"0.2","m":"nautilus","x":0.078,"y":0.84},{"p":"d","s":"0.2","m":"nautilus","x":0.155,"y":0.94},{"p":"d","s":"0.2","m":"nautilus","x":0.233,"y":1.057},{"p":"d","s":"0.2","m":"nautilus","x":0.31,"y":1.147},{"p":"d","s":"0.2","m":"nautilus","x":0.349,"y":1.167},{"p":"d","s":"0.2","m":"nautilus","x":0.414,"y":1.14},{"p":"d","s":"0.2","m":"nautilus","x":0.479,"y":1.173},{"p":"d","s":"0.2","m":"nautilus","x":0.543,"y":1.257},{"p":"d","s":"0.2","m":"nautilus","x":0.595,"y":1.273},{"p":"d","s":"0.2","m":"nautilus","x":0.66,"y":1.24},{"p":"d","s":"0.2","m":"nautilus","x":0.763,"y":1.123},{"p":"d","s":"0.2","m":"nautilus","x":0.866,"y":1.04},{"p":"d","s":"0.2","m":"nautilus","x":1,"y":1.0},
   {"p":"d","s":"0.3","m":"nautilus","x":0,"y":0.49},{"p":"d","s":"0.3","m":"nautilus","x":0.078,"y":0.523},{"p":"d","s":"0.3","m":"nautilus","x":0.155,"y":0.573},{"p":"d","s":"0.3","m":"nautilus","x":0.233,"y":0.64},{"p":"d","s":"0.3","m":"nautilus","x":0.31,"y":0.713},{"p":"d","s":"0.3","m":"nautilus","x":0.375,"y":0.807},{"p":"d","s":"0.3","m":"nautilus","x":0.427,"y":0.94},{"p":"d","s":"0.3","m":"nautilus","x":0.466,"y":1.15},{"p":"d","s":"0.3","m":"nautilus","x":0.492,"y":1.45},{"p":"d","s":"0.3","m":"nautilus","x":0.53,"y":1.773},{"p":"d","s":"0.3","m":"nautilus","x":0.569,"y":1.907},{"p":"d","s":"0.3","m":"nautilus","x":0.608,"y":1.94},{"p":"d","s":"0.3","m":"nautilus","x":0.647,"y":1.873},{"p":"d","s":"0.3","m":"nautilus","x":0.699,"y":1.6},{"p":"d","s":"0.3","m":"nautilus","x":0.75,"y":1.4},{"p":"d","s":"0.3","m":"nautilus","x":0.802,"y":1.25},{"p":"d","s":"0.3","m":"nautilus","x":0.84,"y":1.17},{"p":"d","s":"0.3","m":"nautilus","x":0.931,"y":0.99},{"p":"d","s":"0.3","m":"nautilus","x":1,"y":0.923},
   {"p":"d","s":"0.4","m":"nautilus","x":0,"y":0.323},{"p":"d","s":"0.4","m":"nautilus","x":0.052,"y":0.373},{"p":"d","s":"0.4","m":"nautilus","x":0.103,"y":0.407},{"p":"d","s":"0.4","m":"nautilus","x":0.155,"y":0.39},{"p":"d","s":"0.4","m":"nautilus","x":0.233,"y":0.44},{"p":"d","s":"0.4","m":"nautilus","x":0.31,"y":0.507},{"p":"d","s":"0.4","m":"nautilus","x":0.375,"y":0.59},{"p":"d","s":"0.4","m":"nautilus","x":0.427,"y":0.74},{"p":"d","s":"0.4","m":"nautilus","x":0.466,"y":1.04},{"p":"d","s":"0.4","m":"nautilus","x":0.492,"y":1.373},{"p":"d","s":"0.4","m":"nautilus","x":0.517,"y":1.773},{"p":"d","s":"0.4","m":"nautilus","x":0.543,"y":2.073},{"p":"d","s":"0.4","m":"nautilus","x":0.569,"y":2.207},{"p":"d","s":"0.4","m":"nautilus","x":0.595,"y":2.217},{"p":"d","s":"0.4","m":"nautilus","x":0.634,"y":2.14},{"p":"d","s":"0.4","m":"nautilus","x":0.686,"y":1.907},{"p":"d","s":"0.4","m":"nautilus","x":0.737,"y":1.707},{"p":"d","s":"0.4","m":"nautilus","x":0.802,"y":1.44},{"p":"d","s":"0.4","m":"nautilus","x":0.866,"y":1.207},{"p":"d","s":"0.4","m":"nautilus","x":0.931,"y":1.073},{"p":"d","s":"0.4","m":"nautilus","x":1,"y":1.007}
  ]
 },
 "vconcat": [
  {
   "hconcat": [
    {
     "width": 258, "height": 234,
     "layer": [
      {"data": {"values": [{"x": 0}]}, "mark": {"type": "rule", "color": "#a8a8a8", "strokeDash": [4, 2.5], "strokeWidth": 1},
       "encoding": {"x": {"field": "x", "type": "quantitative", "scale": {"domain": [-1.5, 1.5], "nice": false, "zero": false}, "axis": {"values": [-0.75, 0, 0.75], "labelExpr": "replace(format(datum.value, '.2f'), '−', '-')", "title": null}}}},
      {"data": {"name": "curves"}, "transform": [{"filter": "datum.p === 'a'"}],
       "mark": {"type": "line", "interpolate": "monotone", "strokeWidth": 2.2},
       "encoding": {
        "x": {"field": "x", "type": "quantitative", "scale": {"domain": [-1.5, 1.5], "nice": false, "zero": false}, "axis": {"values": [-0.75, 0, 0.75], "labelExpr": "replace(format(datum.value, '.2f'), '−', '-')", "title": null}},
        "y": {"field": "y", "type": "quantitative", "scale": {"domain": [0, 2.34], "nice": false}, "axis": null},
        "color": {"field": "s", "type": "nominal", "scale": {"domain": ["0.1", "0.2", "0.3", "0.4"], "range": ["#35126b", "#8b2d6b", "#dd5536", "#fba40a"]}, "legend": {"title": "Noise level", "orient": "none", "legendX": -5, "legendY": 318, "direction": "horizontal", "titleOrient": "left", "titleAnchor": "middle", "titleBaseline": "middle", "titlePadding": 149, "titleFont": "Liberation Serif", "titleFontSize": 13.5, "titleFontWeight": "bold", "titleColor": "#000", "labelFont": "Liberation Serif", "labelFontSize": 14.5, "labelColor": "#000", "symbolType": "stroke", "symbolSize": 625, "symbolStrokeWidth": 3.5, "labelOffset": 2, "columnPadding": 11, "padding": 0, "labelExpr": "'σ = ' + datum.label", "encode": {"title": {"update": {"dy": {"value": 4}}}}}},
        "strokeDash": {"field": "m", "type": "nominal", "scale": {"domain": ["FMPE-IS", "NPE-IS", "nautilus"], "range": [[1, 0], [5, 2.5], [2.2, 2.8]]}, "legend": {"title": "Method:", "orient": "none", "legendX": 773, "legendY": 318, "direction": "horizontal", "titleOrient": "left", "titleAnchor": "middle", "titleBaseline": "middle", "titlePadding": 17, "titleFont": "Liberation Serif", "titleFontSize": 13.5, "titleFontWeight": "bold", "titleColor": "#000", "labelFont": "Liberation Serif", "labelFontSize": 14, "labelColor": "#000", "symbolType": "stroke", "symbolSize": 625, "symbolStrokeWidth": 3, "symbolStrokeColor": "#000", "labelOffset": 4, "columnPadding": 6, "padding": 0, "encode": {"title": {"update": {"dy": {"value": 4}}}, "labels": {"update": {"font": {"signal": "datum.label === 'nautilus' ? 'DejaVu Sans Mono' : 'Liberation Serif'"}, "fontSize": {"signal": "datum.label === 'nautilus' ? 12.5 : 14"}}}}}}
       }},
      {"data": {"values": [{"t": "(a) [Fe/H]"}]}, "mark": {"type": "text", "align": "center", "baseline": "alphabetic", "dy": 53, "font": "Liberation Serif", "fontSize": 20, "color": "#000"},
       "encoding": {"x": {"datum": 0, "type": "quantitative", "scale": {"domain": [-1.5, 1.5], "nice": false, "zero": false}, "axis": {"values": [-0.75, 0, 0.75], "labelExpr": "replace(format(datum.value, '.2f'), '−', '-')", "title": null}}, "y": {"datum": 0, "type": "quantitative", "scale": {"domain": [0, 2.34], "nice": false}, "axis": null}, "text": {"field": "t"}}}
     ]
    },
    {
     "width": 258, "height": 234,
     "layer": [
      {"data": {"values": [{"x": -0.85}]}, "mark": {"type": "rule", "color": "#a8a8a8", "strokeDash": [4, 2.5], "strokeWidth": 1},
       "encoding": {"x": {"field": "x", "type": "quantitative", "scale": {"domain": [-2.3, 1.0], "nice": false, "zero": false}, "axis": {"values": [-1.475, -0.65, 0.175], "labelExpr": "replace(format(datum.value, '.3f'), '−', '-')", "title": null}}}},
      {"data": {"name": "curves"}, "transform": [{"filter": "datum.p === 'b'"}],
       "mark": {"type": "line", "interpolate": "monotone", "strokeWidth": 2.2},
       "encoding": {
        "x": {"field": "x", "type": "quantitative", "scale": {"domain": [-2.3, 1.0], "nice": false, "zero": false}, "axis": {"values": [-1.475, -0.65, 0.175], "labelExpr": "replace(format(datum.value, '.3f'), '−', '-')", "title": null}},
        "y": {"field": "y", "type": "quantitative", "scale": {"domain": [0, 2.34], "nice": false}, "axis": null},
        "color": {"field": "s", "type": "nominal", "scale": {"domain": ["0.1", "0.2", "0.3", "0.4"], "range": ["#35126b", "#8b2d6b", "#dd5536", "#fba40a"]}},
        "strokeDash": {"field": "m", "type": "nominal", "scale": {"domain": ["FMPE-IS", "NPE-IS", "nautilus"], "range": [[1, 0], [5, 2.5], [2.2, 2.8]]}}
       }},
      {"data": {"values": [{"a": "(b)", "v": "S", "u": "eq,Fe"}]},
       "encoding": {"x": {"datum": -0.864, "type": "quantitative", "scale": {"domain": [-2.3, 1.0], "nice": false, "zero": false}, "axis": {"values": [-1.475, -0.65, 0.175], "labelExpr": "replace(format(datum.value, '.3f'), '−', '-')", "title": null}}, "y": {"datum": 0, "type": "quantitative", "scale": {"domain": [0, 2.34], "nice": false}, "axis": null}},
       "layer": [
        {"mark": {"type": "text", "align": "right", "baseline": "alphabetic", "dy": 53, "font": "Liberation Serif", "fontSize": 20, "color": "#000"}, "encoding": {"text": {"field": "a"}}},
        {"mark": {"type": "text", "align": "left", "baseline": "alphabetic", "dx": 5, "dy": 53, "font": "Liberation Serif", "fontStyle": "italic", "fontSize": 20, "color": "#000"}, "encoding": {"text": {"field": "v"}}},
        {"mark": {"type": "text", "align": "left", "baseline": "alphabetic", "dx": 16.5, "dy": 57, "font": "Liberation Serif", "fontSize": 14, "color": "#000"}, "encoding": {"text": {"field": "u"}}}
       ]}
     ]
    },
    {
     "width": 258, "height": 234,
     "layer": [
      {"data": {"values": [{"x": 3.0}]}, "mark": {"type": "rule", "color": "#a8a8a8", "strokeDash": [4, 2.5], "strokeWidth": 1},
       "encoding": {"x": {"field": "x", "type": "quantitative", "scale": {"domain": [0, 10], "nice": false, "zero": false}, "axis": {"values": [2.5, 5, 7.5], "labelExpr": "format(datum.value, '.1f')", "title": null}}}},
      {"data": {"name": "curves"}, "transform": [{"filter": "datum.p === 'c'"}],
       "mark": {"type": "line", "interpolate": "monotone", "strokeWidth": 2.2},
       "encoding": {
        "x": {"field": "x", "type": "quantitative", "scale": {"domain": [0, 10], "nice": false, "zero": false}, "axis": {"values": [2.5, 5, 7.5], "labelExpr": "format(datum.value, '.1f')", "title": null}},
        "y": {"field": "y", "type": "quantitative", "scale": {"domain": [0, 2.34], "nice": false}, "axis": null},
        "color": {"field": "s", "type": "nominal", "scale": {"domain": ["0.1", "0.2", "0.3", "0.4"], "range": ["#35126b", "#8b2d6b", "#dd5536", "#fba40a"]}},
        "strokeDash": {"field": "m", "type": "nominal", "scale": {"domain": ["FMPE-IS", "NPE-IS", "nautilus"], "range": [[1, 0], [5, 2.5], [2.2, 2.8]]}}
       }},
      {"data": {"values": [{"a": "(c)", "v": "f", "u": "sed"}]},
       "encoding": {"x": {"datum": 4.66, "type": "quantitative", "scale": {"domain": [0, 10], "nice": false, "zero": false}, "axis": {"values": [2.5, 5, 7.5], "labelExpr": "format(datum.value, '.1f')", "title": null}}, "y": {"datum": 0, "type": "quantitative", "scale": {"domain": [0, 2.34], "nice": false}, "axis": null}},
       "layer": [
        {"mark": {"type": "text", "align": "right", "baseline": "alphabetic", "dy": 53, "font": "Liberation Serif", "fontSize": 20, "color": "#000"}, "encoding": {"text": {"field": "a"}}},
        {"mark": {"type": "text", "align": "left", "baseline": "alphabetic", "dx": 7, "dy": 53, "font": "Liberation Serif", "fontStyle": "italic", "fontSize": 20, "color": "#000"}, "encoding": {"text": {"field": "v"}}},
        {"mark": {"type": "text", "align": "left", "baseline": "alphabetic", "dx": 15, "dy": 57, "font": "Liberation Serif", "fontSize": 14, "color": "#000"}, "encoding": {"text": {"field": "u"}}}
       ]}
     ]
    },
    {
     "width": 258, "height": 234,
     "layer": [
      {"data": {"values": [{"x": 0.26}]}, "mark": {"type": "rule", "color": "#a8a8a8", "strokeDash": [4, 2.5], "strokeWidth": 1},
       "encoding": {"x": {"field": "x", "type": "quantitative", "scale": {"domain": [0, 1], "nice": false, "zero": false}, "axis": {"values": [0.25, 0.5, 0.75], "labelExpr": "format(datum.value, '.2f')", "title": null}}}},
      {"data": {"name": "curves"}, "transform": [{"filter": "datum.p === 'd'"}],
       "mark": {"type": "line", "interpolate": "monotone", "strokeWidth": 2.2},
       "encoding": {
        "x": {"field": "x", "type": "quantitative", "scale": {"domain": [0, 1], "nice": false, "zero": false}, "axis": {"values": [0.25, 0.5, 0.75], "labelExpr": "format(datum.value, '.2f')", "title": null}},
        "y": {"field": "y", "type": "quantitative", "scale": {"domain": [0, 2.34], "nice": false}, "axis": null},
        "color": {"field": "s", "type": "nominal", "scale": {"domain": ["0.1", "0.2", "0.3", "0.4"], "range": ["#35126b", "#8b2d6b", "#dd5536", "#fba40a"]}},
        "strokeDash": {"field": "m", "type": "nominal", "scale": {"domain": ["FMPE-IS", "NPE-IS", "nautilus"], "range": [[1, 0], [5, 2.5], [2.2, 2.8]]}}
       }},
      {"data": {"values": [{"a": "(d)", "v": "T", "u": "3"}]},
       "encoding": {"x": {"datum": 0.472, "type": "quantitative", "scale": {"domain": [0, 1], "nice": false, "zero": false}, "axis": {"values": [0.25, 0.5, 0.75], "labelExpr": "format(datum.value, '.2f')", "title": null}}, "y": {"datum": 0, "type": "quantitative", "scale": {"domain": [0, 2.34], "nice": false}, "axis": null}},
       "layer": [
        {"mark": {"type": "text", "align": "right", "baseline": "alphabetic", "dy": 53, "font": "Liberation Serif", "fontSize": 20, "color": "#000"}, "encoding": {"text": {"field": "a"}}},
        {"mark": {"type": "text", "align": "left", "baseline": "alphabetic", "dx": 5, "dy": 53, "font": "Liberation Serif", "fontStyle": "italic", "fontSize": 20, "color": "#000"}, "encoding": {"text": {"field": "v"}}},
        {"mark": {"type": "text", "align": "left", "baseline": "alphabetic", "dx": 17, "dy": 57, "font": "Liberation Serif", "fontSize": 14, "color": "#000"}, "encoding": {"text": {"field": "u"}}}
       ]}
     ]
    }
   ],
   "spacing": 44,
   "bounds": "flush"
  },
  {
   "width": 1197, "height": 37,
   "data": {"values": [{"unit": "(in 10⁻¹⁶ W m⁻² µm⁻¹):"}]},
   "layer": [
    {"mark": {"type": "text", "align": "left", "baseline": "middle", "font": "Liberation Serif", "fontSize": 15, "color": "#000"},
     "encoding": {
      "x": {"datum": 60, "type": "quantitative", "scale": {"domain": [0, 1197], "nice": false, "zero": false}, "axis": {"orient": "top", "labels": false, "ticks": false, "title": null, "domainColor": "#555", "domainWidth": 1.3}},
      "y": {"datum": 0.5, "type": "quantitative", "scale": {"domain": [0, 1]}, "axis": null},
      "text": {"field": "unit"}}},
    {"mark": {"type": "text", "text": " "},
     "encoding": {
      "x": {"datum": 0, "type": "quantitative", "scale": {"domain": [0, 1197], "nice": false, "zero": false}, "axis": {"orient": "bottom", "labels": false, "ticks": false, "title": null, "domainColor": "#555", "domainWidth": 1.3}},
      "y": {"datum": 0.5, "type": "quantitative", "scale": {"domain": [0, 1]}, "axis": null}}}
   ],
   "resolve": {"axis": {"x": "independent"}}
  }
 ],
 "spacing": 19
}
